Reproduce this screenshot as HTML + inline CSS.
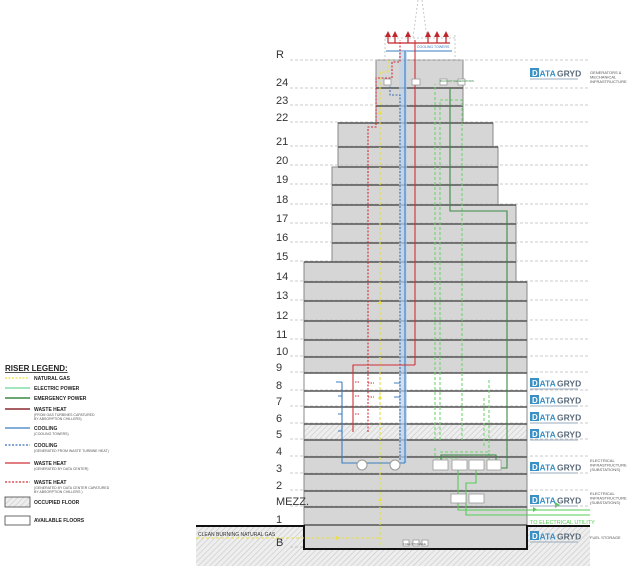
<!DOCTYPE html>
<html><head><meta charset="utf-8"><style>
html,body{margin:0;padding:0;background:#fff;}
svg{display:block;font-family:"Liberation Sans",Arial,sans-serif;}
</style></head><body>
<svg width="630" height="566" viewBox="0 0 630 566" xmlns="http://www.w3.org/2000/svg">
<defs>
<pattern id="h" width="4" height="4" patternUnits="userSpaceOnUse" patternTransform="rotate(45)">
<rect width="4" height="4" fill="#eeeeee"/><line x1="0" y1="0" x2="0" y2="4" stroke="#c8c8c8" stroke-width="1.2"/>
</pattern>
<g id="logo">
<rect x="0" y="0" width="9" height="9" fill="#3a8fc4"/>
<text x="2" y="8" font-size="8" font-weight="bold" fill="#fff">D</text>
<text x="9.5" y="8.5" font-size="8.5" font-weight="bold" fill="#3a8fc4">ATA</text>
<text x="27" y="8.5" font-size="8.5" font-weight="bold" fill="#5a6a7a">GRYD</text>
<rect x="0" y="10.5" width="48" height="1" fill="#9ab"/>
</g>
</defs>

<rect x="196" y="526" width="394" height="40" fill="url(#h)"/>

<path d="M376 60 H463 V123 H493 V147 H498 V205 H516 V282 H527 V549 H304 V262 H332 V167 H338 V123 H376 Z" fill="#d6d6d6"/>
<rect x="304" y="373" width="223" height="51" fill="#fff"/>
<rect x="304" y="424" width="223" height="16" fill="url(#h)"/>
<path d="M304 525 V262 H332 V167 H338 V123 H376 V60 H463 V123 H493 V147 H498 V205 H516 V282 H527 V525" fill="none" stroke="#888" stroke-width="1"/>

<g stroke="#bbb" stroke-width="0.8" stroke-dasharray="3,2">
<line x1="290" y1="60" x2="590" y2="60"/><line x1="290" y1="88" x2="590" y2="88"/>
<line x1="290" y1="105" x2="590" y2="105"/><line x1="290" y1="122" x2="590" y2="122"/>
<line x1="290" y1="146" x2="590" y2="146"/><line x1="290" y1="165" x2="590" y2="165"/>
<line x1="290" y1="184" x2="590" y2="184"/><line x1="290" y1="204" x2="590" y2="204"/>
<line x1="290" y1="223" x2="590" y2="223"/><line x1="290" y1="242" x2="590" y2="242"/>
<line x1="290" y1="261" x2="590" y2="261"/><line x1="290" y1="281" x2="590" y2="281"/>
<line x1="290" y1="300" x2="590" y2="300"/><line x1="290" y1="320" x2="590" y2="320"/>
<line x1="290" y1="339" x2="590" y2="339"/><line x1="290" y1="356" x2="590" y2="356"/>
<line x1="290" y1="372" x2="590" y2="372"/><line x1="290" y1="390" x2="590" y2="390"/>
<line x1="290" y1="406" x2="590" y2="406"/><line x1="290" y1="423" x2="590" y2="423"/>
<line x1="290" y1="439" x2="590" y2="439"/><line x1="290" y1="456" x2="590" y2="456"/>
<line x1="290" y1="473" x2="590" y2="473"/><line x1="290" y1="490" x2="590" y2="490"/>
<line x1="290" y1="506" x2="590" y2="506"/><line x1="290" y1="547" x2="304" y2="547"/>
</g>
<g stroke="#555" stroke-width="1.4">
<line x1="376" y1="88" x2="463" y2="88"/><line x1="376" y1="106" x2="463" y2="106"/>
<line x1="338" y1="123" x2="493" y2="123"/><line x1="338" y1="147" x2="498" y2="147"/>
<line x1="338" y1="167" x2="498" y2="167"/><line x1="332" y1="185" x2="498" y2="185"/>
<line x1="332" y1="205" x2="516" y2="205"/><line x1="332" y1="224" x2="516" y2="224"/>
<line x1="332" y1="243" x2="516" y2="243"/><line x1="304" y1="262" x2="516" y2="262"/>
<line x1="304" y1="282" x2="527" y2="282"/><line x1="304" y1="301" x2="527" y2="301"/>
<line x1="304" y1="321" x2="527" y2="321"/><line x1="304" y1="340" x2="527" y2="340"/>
<line x1="304" y1="357" x2="527" y2="357"/><line x1="304" y1="373" x2="527" y2="373"/>
<line x1="304" y1="391" x2="527" y2="391"/><line x1="304" y1="407" x2="527" y2="407"/>
<line x1="304" y1="424" x2="527" y2="424"/><line x1="304" y1="440" x2="527" y2="440"/>
<line x1="304" y1="457" x2="527" y2="457"/><line x1="304" y1="474" x2="527" y2="474"/>
<line x1="304" y1="491" x2="527" y2="491"/><line x1="304" y1="507" x2="527" y2="507"/>
<line x1="304" y1="525" x2="527" y2="525"/>
</g>
<path d="M196 526 H304 V549 H527 V526 H590" fill="none" stroke="#111" stroke-width="2"/>

<g font-size="11" fill="#333">
<text x="276" y="58">R</text><text x="276" y="86">24</text><text x="276" y="104">23</text>
<text x="276" y="121">22</text><text x="276" y="145">21</text><text x="276" y="164">20</text>
<text x="276" y="183">19</text><text x="276" y="203">18</text><text x="276" y="222">17</text>
<text x="276" y="241">16</text><text x="276" y="260">15</text><text x="276" y="280">14</text>
<text x="276" y="299">13</text><text x="276" y="319">12</text><text x="276" y="338">11</text>
<text x="276" y="355">10</text><text x="276" y="371">9</text><text x="276" y="389">8</text>
<text x="276" y="405">7</text><text x="276" y="422">6</text><text x="276" y="438">5</text>
<text x="276" y="455">4</text><text x="276" y="472">3</text><text x="276" y="489">2</text>
<text x="276" y="505">MEZZ.</text><text x="276" y="523">1</text><text x="276" y="546">B</text>
</g>

<path d="M385 35 V60 M455 35 V60 M385 38 H455" stroke="#bbb" stroke-width="0.8" stroke-dasharray="2,2" fill="none"/>
<path d="M418 0 L413 38 M422 0 L427 38" stroke="#bbb" stroke-width="0.8" stroke-dasharray="2,2" fill="none"/>
<g stroke="#c0262b" stroke-width="1.2" fill="#c0262b">
<line x1="388" y1="43" x2="450" y2="43"/>
<line x1="388" y1="43" x2="388" y2="36"/><line x1="395" y1="43" x2="395" y2="36"/><line x1="408" y1="43" x2="408" y2="36"/>
<line x1="428" y1="43" x2="428" y2="36"/><line x1="437" y1="43" x2="437" y2="36"/><line x1="446" y1="43" x2="446" y2="36"/>
<path d="M385 37 L388 31 L391 37Z M392 37 L395 31 L398 37Z M405 37 L408 31 L411 37Z M425 37 L428 31 L431 37Z M434 37 L437 31 L440 37Z M443 37 L446 31 L449 37Z" stroke="none"/>
</g>
<text x="417" y="48" font-size="3.5" fill="#3a7dc0">COOLING TOWERS</text>
<line x1="386" y1="51" x2="452" y2="51" stroke="#3a7dc0" stroke-width="1"/>

<rect x="399" y="51" width="8" height="412" fill="#bcd3ea" opacity="0.7"/>
<g fill="none" stroke-width="1.1">
<path d="M380 545 V72 H388 V60" stroke="#e8e040" stroke-dasharray="3,2"/>
<path d="M196 538 H380" stroke="#e8e040" stroke-dasharray="3,2"/>
<path d="M400 460 V95 H390 V80" stroke="#3a6fb8" stroke-dasharray="2,1.5"/>
<path d="M405 463 V51" stroke="#3a7dc0"/>
<path d="M342 382 H336 M342 382 V463 H405" stroke="#3a7dc0"/>
<path d="M415 365 V40 M353 432 V365 H415" stroke="#d03038"/>
<path d="M368 432 V127 H376 V78 H392 V62 H400 V40" stroke="#d03038" stroke-dasharray="2,1.5"/>
<path d="M435 440 V84 M440 440 V100 H462 V440" stroke="#6fd46f" stroke-dasharray="3,2"/>
<path d="M450 88 V211 H507 V468 H501" stroke="#3b8a45"/>
<path d="M489 380 V452 M484 398 V448" stroke="#6fd46f" stroke-dasharray="3,2"/>
<path d="M440 452 H489 V460 M435 448 V458 H460" stroke="#6fd46f" stroke-dasharray="3,2"/>
<path d="M458 470 V510 H590 M476 470 V483 H466 V515 H590" stroke="#55cc55"/>
<path d="M441 468 V455 H496 V460" stroke="#3b8a45"/>
</g>
<g stroke="#d03038" stroke-width="1" stroke-dasharray="1.5,1"><line x1="355" y1="382" x2="360" y2="382"/><line x1="355" y1="396" x2="360" y2="396"/><line x1="355" y1="414" x2="360" y2="414"/><line x1="368" y1="383" x2="374" y2="383"/><line x1="368" y1="397" x2="374" y2="397"/></g>
<g stroke="#3a7dc0" stroke-width="1"><line x1="338" y1="396" x2="342" y2="396"/><line x1="338" y1="414" x2="342" y2="414"/><line x1="338" y1="431" x2="342" y2="431"/><line x1="394" y1="383" x2="400" y2="383"/><line x1="394" y1="397" x2="400" y2="397"/></g>
<path d="M380 110 l-2 4 h4z M380 300 l-2 4 h4z M380 395 l-2 4 h4z M380 497 l-2 4 h4z M336 536 l4 2 -4 2z" fill="#e8e040"/>
<path d="M533 507 l4 2.5 -4 2.5z M555 502 l5 3 -5 3z" fill="#55cc55"/>
<circle cx="362" cy="465" r="5" fill="#fff" stroke="#999"/><circle cx="395" cy="465" r="5" fill="#fff" stroke="#999"/>
<g fill="#fff" stroke="#999" stroke-width="0.8">
<rect x="433" y="460" width="15" height="10"/><rect x="452" y="460" width="15" height="10"/>
<rect x="469" y="460" width="15" height="10"/><rect x="487" y="460" width="14" height="10"/>
<rect x="451" y="494" width="15" height="9"/><rect x="469" y="494" width="15" height="9"/>
<rect x="384" y="79" width="7" height="6"/><rect x="412" y="79" width="8" height="6"/><rect x="440" y="79" width="7" height="6"/><rect x="458" y="79" width="7" height="6"/>
<rect x="403" y="540" width="6" height="6"/><rect x="413" y="540" width="6" height="6"/><rect x="422" y="540" width="6" height="6"/>
</g>
<text x="403" y="545" font-size="3" fill="#555">FUEL STORAGE</text>
<text x="440" y="82" font-size="3" fill="#3b8a45">BACKUP GENERATORS</text>

<use href="#logo" x="530" y="68"/><use href="#logo" x="530" y="378"/><use href="#logo" x="530" y="395"/>
<use href="#logo" x="530" y="412"/><use href="#logo" x="530" y="429"/><use href="#logo" x="530" y="462"/>
<use href="#logo" x="530" y="495"/><use href="#logo" x="530" y="531"/>
<g font-size="4" fill="#555">
<text x="590" y="74">GENERATORS &amp;</text><text x="590" y="78.5">MECHANICAL</text><text x="590" y="83">INFRASTRUCTURE</text>
<text x="590" y="462">ELECTRICAL</text><text x="590" y="466.5">INFRASTRUCTURE</text><text x="590" y="471">(SUBSTATIONS)</text>
<text x="590" y="495">ELECTRICAL</text><text x="590" y="499.5">INFRASTRUCTURE</text><text x="590" y="504">(SUBSTATIONS)</text>
<text x="590" y="539">FUEL STORAGE</text>
</g>
<text x="530" y="524" font-size="5.5" fill="#55cc55">TO ELECTRICAL UTILITY</text>
<text x="198" y="536" font-size="5" fill="#333">CLEAN BURNING NATURAL GAS</text>

<text x="5" y="371" font-size="8" font-weight="bold" fill="#222" text-decoration="underline">RISER LEGEND:</text>
<g stroke-width="1.2">
<line x1="5" y1="378" x2="30" y2="378" stroke="#e8e040" stroke-dasharray="2,1.5"/>
<line x1="5" y1="388" x2="30" y2="388" stroke="#66d899"/>
<line x1="5" y1="398" x2="30" y2="398" stroke="#3b8a45" stroke-width="1.6"/>
<line x1="5" y1="409" x2="30" y2="409" stroke="#8a2a30" stroke-width="1.6"/>
<line x1="5" y1="428" x2="30" y2="428" stroke="#3a7dc0"/>
<line x1="5" y1="445" x2="30" y2="445" stroke="#3a6fb8" stroke-dasharray="2,1.5"/>
<line x1="5" y1="463" x2="30" y2="463" stroke="#d03038"/>
<line x1="5" y1="482" x2="30" y2="482" stroke="#d03038" stroke-dasharray="2,1.5"/>
</g>
<rect x="5" y="497" width="25" height="10" fill="url(#h)" stroke="#444" stroke-width="0.8"/>
<rect x="5" y="516" width="25" height="9" fill="#fff" stroke="#444" stroke-width="0.8"/>
<g font-size="5" font-weight="bold" fill="#222">
<text x="34" y="380">NATURAL GAS</text><text x="34" y="390">ELECTRIC POWER</text><text x="34" y="400">EMERGENCY POWER</text>
<text x="34" y="411">WASTE HEAT</text><text x="34" y="430">COOLING</text><text x="34" y="447">COOLING</text>
<text x="34" y="465">WASTE HEAT</text><text x="34" y="484">WASTE HEAT</text>
<text x="34" y="504">OCCUPIED FLOOR</text><text x="34" y="522">AVAILABLE FLOORS</text>
</g>
<g font-size="3.5" fill="#555">
<text x="34" y="416">(FROM GAS TURBINES CAPATURED</text><text x="34" y="420">BY ABSORPTION CHILLERS)</text>
<text x="34" y="435">(COOLING TOWERS)</text><text x="34" y="452">(GENERATED FROM WASTE TURBINE HEAT)</text>
<text x="34" y="470">(GENERATED BY DATA CENTER)</text>
<text x="34" y="489">(GENERATED BY DATA CENTER CAPATURED</text><text x="34" y="493">BY ABSORPTION CHILLERS )</text>
</g>
</svg>
</body></html>
